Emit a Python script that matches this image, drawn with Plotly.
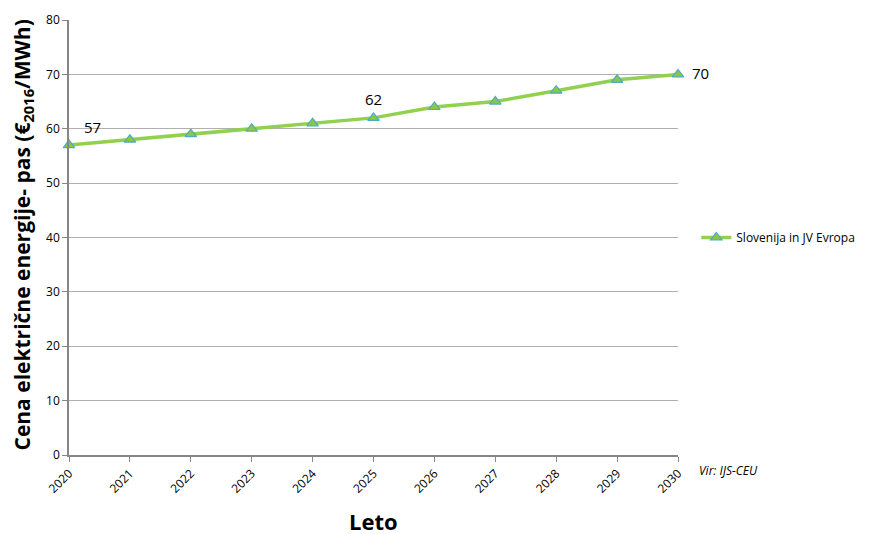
import plotly.graph_objects as go

years = [2020, 2021, 2022, 2023, 2024, 2025, 2026, 2027, 2028, 2029, 2030]
prices = [57, 58, 59, 60, 61, 62, 64, 65, 67, 69, 70]
series_name = "Slovenija in JV Evropa"
label_years = [2020, 2025, 2030]
y_ticks = [0, 10, 20, 30, 40, 50, 60, 70, 80]

FONT = "Open Sans"

fig = go.Figure()
fig.add_trace(go.Scatter(
    x=years, y=prices, mode="lines+markers", name=series_name,
    line=dict(color="#92D050", width=3.5),
    marker=dict(symbol="triangle-up", size=10, color="#8DC63F",
                line=dict(color="#4BACC6", width=1.2)),
    cliponaxis=False,
))

shifts = {2020: (23, 18), 2025: (0, 19), 2030: (22, 1)}
for yr in label_years:
    v = prices[years.index(yr)]
    dx, dy = shifts[yr]
    fig.add_annotation(x=yr, y=v, text=str(v), showarrow=False,
                       xshift=dx, yshift=dy,
                       font=dict(family=FONT, size=15, color="#000000"))

fig.add_annotation(xref="paper", yref="paper", x=1.0, y=0, xshift=19, yshift=-15,
                   xanchor="left", yanchor="middle", text="<i>Vir: IJS-CEU</i>",
                   showarrow=False, font=dict(family=FONT, size=12, color="#000000"))

# axis titles
fig.add_annotation(xref="paper", yref="paper", x=0.5, y=0, yshift=-66,
                   xanchor="center", yanchor="middle", text="<b>Leto</b>",
                   showarrow=False, font=dict(family=FONT, size=22, color="#000000"))
fig.add_annotation(xref="paper", yref="paper", x=0, y=0.5, xshift=-47, yshift=2,
                   xanchor="center", yanchor="middle", textangle=-90,
                   text="<b>Cena električne energije- pas (€<sub>2016</sub>/MWh)</b>",
                   showarrow=False, font=dict(family=FONT, size=21, color="#000000"))

fig.update_layout(
    width=869, height=534,
    margin=dict(l=69, r=191, t=20, b=79, autoexpand=False),
    paper_bgcolor="white", plot_bgcolor="white",
    font=dict(family=FONT, color="#000000"),
    showlegend=True,
    legend=dict(x=1.03, y=0.5, xanchor="left", yanchor="middle",
                font=dict(family=FONT, size=12, color="#000000"),
                itemwidth=30, bgcolor="rgba(0,0,0,0)"),
)
fig.update_xaxes(
    range=[2020, 2030], tickmode="array", tickvals=years,
    ticktext=[str(y) for y in years], tickangle=-45,
    ticks="outside", ticklen=5, tickcolor="#868686",
    showline=True, linecolor="#868686", linewidth=1.5,
    showgrid=False, zeroline=False, automargin=False,
    tickfont=dict(family=FONT, size=12, color="#000000"),
)
fig.update_yaxes(
    range=[0, 80], tickmode="array", tickvals=y_ticks,
    ticks="outside", ticklen=5, tickcolor="#868686",
    showline=True, linecolor="#868686", linewidth=1.5,
    showgrid=True, gridcolor="#B0B0B0", gridwidth=1.3, zeroline=False, automargin=False,
    tickfont=dict(family=FONT, size=12, color="#000000"),
)

fig.write_html("out.html", config={"displayModeBar": False},
               post_script="document.body.style.margin='0px';document.body.style.overflow='hidden';")
